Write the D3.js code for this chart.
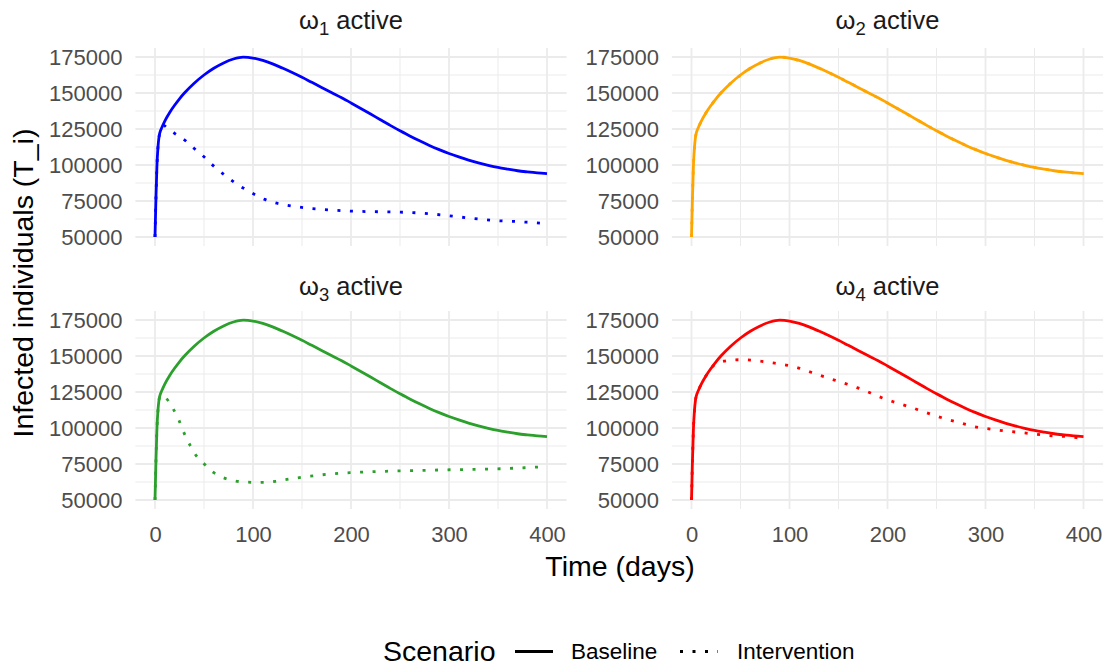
<!DOCTYPE html>
<html>
<head>
<meta charset="utf-8">
<script src="https://cdn.jsdelivr.net/npm/d3@7"></script>
<style>
  body { margin: 0; background: #fff; }
  text { font-family: "Liberation Sans", Arial, sans-serif; }
</style>
</head>
<body>
<svg id="chart" width="1108" height="666"></svg>
<script>
// ---- data: infected individuals T_i over time (days) ----
const facetLabels = ["1", "2", "3", "4"];           // subscript of ω in each strip
const facetColors = ["#0000FF", "#FFA500", "#2CA02C", "#FF0000"];
const scenarios = ["Baseline", "Intervention"];
const xTicks = [0, 100, 200, 300, 400];
const yTicks = [50000, 75000, 100000, 125000, 150000, 175000];

// baseline trajectory (identical across the four panels)
const baseline = [
  [0, 50000], [1, 78000], [2, 100000], [3, 112000], [4, 119000], [5, 122500],
  [7, 126000], [10, 130500], [15, 136500], [20, 141500], [25, 146000], [30, 150000],
  [40, 156800], [50, 162500], [60, 167200], [70, 170900], [80, 173600], [90, 174900],
  [100, 174300], [110, 172600], [120, 170200], [130, 167300], [140, 164200],
  [150, 160900], [160, 157400], [170, 153900], [180, 150300], [190, 146800],
  [200, 143100], [210, 139300], [220, 135400], [230, 131400], [240, 127500],
  [250, 123800], [260, 120200], [270, 116800], [280, 113600], [290, 110700],
  [300, 108000], [310, 105600], [320, 103400], [330, 101500], [340, 99800],
  [350, 98300], [360, 97100], [370, 96000], [380, 95200], [390, 94500], [400, 94000]
];

// intervention with ω1 active
const interventionW1 = [
  [0, 50000], [1, 78000], [2, 100000], [3, 112000], [4, 119000], [5, 122500],
  [7, 126000], [9, 127500], [12, 126000], [20, 122000], [32, 116400], [40, 111500],
  [50, 105700], [60, 99200], [74, 91500], [85, 86000], [94, 82500], [103, 79000],
  [112, 76100], [122, 73800], [134, 72100], [147, 70800], [159, 69800], [172, 69100],
  [185, 68500], [208, 67800], [230, 67500], [247, 67300], [272, 66600], [297, 65000],
  [323, 63000], [348, 61400], [370, 60700], [385, 60000], [400, 59300]
];

// intervention with ω2 active (coincides with the baseline)
const interventionW2 = baseline;

// intervention with ω3 active
const interventionW3 = [
  [0, 50000], [1, 78000], [2, 100000], [3, 112000], [4, 119000], [5, 122000],
  [7, 123000], [10, 121500], [14, 118500], [18, 114000], [24, 106000], [31, 94500],
  [37, 86500], [42, 80800], [47, 77000], [51, 74500], [56, 71000], [60, 69000],
  [67, 66300], [75, 64300], [82, 63200], [89, 62600], [100, 62300], [113, 62300],
  [126, 63300], [138, 64700], [151, 65900], [163, 66900], [175, 67800], [199, 69000],
  [224, 69700], [250, 70200], [275, 70600], [301, 71000], [326, 71300], [352, 71700],
  [377, 72400], [400, 73200]
];

// intervention with ω4 active
const interventionW4 = [
  [0, 50000], [1, 78000], [2, 100000], [3, 112000], [4, 119000], [5, 122500],
  [7, 126000], [10, 130500], [15, 136500], [20, 141500], [25, 144800], [33, 146400],
  [40, 147100], [48, 147400], [57, 147300], [67, 146700], [76, 145900], [85, 145000],
  [95, 143900], [104, 142700], [113, 140900], [122, 138700], [131, 136600],
  [141, 134400], [150, 132300], [160, 130200], [169, 128000], [178, 125700],
  [187, 123000], [197, 120300], [206, 118200], [215, 116300], [225, 114100],
  [234, 112000], [249, 108500], [260, 106200], [271, 104200], [280, 102500],
  [289, 100900], [300, 99700], [312, 98600], [325, 97600], [338, 96700],
  [351, 95700], [364, 94800], [375, 94300], [386, 93900], [393, 93300], [399, 92700]
];

const interventions = [interventionW1, interventionW2, interventionW3, interventionW4];

// ---- layout ----
const svg = d3.select("#chart");
const colX = [155, 691.5];          // pixel of day 0 in each column
const panelW = 392;                 // pixels spanned by days 0..400
const rowTop = [57, 320];           // pixel of 175000 in each row
const panelH = 180;                 // pixels spanned by 50000..175000
const fontTick = 22, fontTitle = 28.5, fontStrip = 25.5, fontLegend = 22.5;
const lineW = 2.8;

const fmt = d3.format("d");

facetLabels.forEach((lab, i) => {
  const col = i % 2, row = Math.floor(i / 2);
  const x = d3.scaleLinear().domain([0, 400]).range([colX[col], colX[col] + panelW]);
  const y = d3.scaleLinear().domain([50000, 175000]).range([rowTop[row] + panelH, rowTop[row]]);
  const xMin = x(-20), xMax = x(420), yMin = y(43750), yMax = y(181250);

  const g = svg.append("g");

  // grid: minor then major
  const minorX = [50, 150, 250, 350];
  const minorY = [62500, 87500, 112500, 137500, 162500];
  g.selectAll(".mx").data(minorX).join("line")
    .attr("x1", d => x(d)).attr("x2", d => x(d)).attr("y1", yMax).attr("y2", yMin)
    .attr("stroke", "#EBEBEB").attr("stroke-width", 1);
  g.selectAll(".my").data(minorY).join("line")
    .attr("x1", xMin).attr("x2", xMax).attr("y1", d => y(d)).attr("y2", d => y(d))
    .attr("stroke", "#EBEBEB").attr("stroke-width", 1);
  g.selectAll(".Mx").data(xTicks).join("line")
    .attr("x1", d => x(d)).attr("x2", d => x(d)).attr("y1", yMax).attr("y2", yMin)
    .attr("stroke", "#EBEBEB").attr("stroke-width", 1.8);
  g.selectAll(".My").data(yTicks).join("line")
    .attr("x1", xMin).attr("x2", xMax).attr("y1", d => y(d)).attr("y2", d => y(d))
    .attr("stroke", "#EBEBEB").attr("stroke-width", 1.8);

  // y axis labels
  const yAxis = d3.axisLeft(y).tickValues(yTicks).tickFormat(fmt).tickSize(0).tickPadding(0);
  const ya = g.append("g").attr("transform", `translate(${xMin - 13},0)`).call(yAxis);
  ya.select(".domain").remove();
  ya.selectAll("text").attr("font-size", fontTick).attr("fill", "#4D4D4D")
    .attr("font-family", "Liberation Sans, Arial, sans-serif").attr("dy", "0.36em");

  // x axis labels only on bottom row
  if (row === 1) {
    const xAxis = d3.axisBottom(x).tickValues(xTicks).tickFormat(fmt).tickSize(0).tickPadding(0);
    const xa = g.append("g").attr("transform", `translate(0,${yMin})`).call(xAxis);
    xa.select(".domain").remove();
    xa.selectAll("text").attr("font-size", fontTick).attr("fill", "#4D4D4D")
      .attr("font-family", "Liberation Sans, Arial, sans-serif")
      .attr("dy", null).attr("y", 0).attr("transform", "translate(0,33)");
  }

  // strip label
  const st = g.append("text")
    .attr("x", x(200)).attr("y", row === 0 ? 28.5 : 294.5)
    .attr("text-anchor", "middle").attr("font-size", fontStrip).attr("fill", "#1A1A1A");
  st.append("tspan").text("ω");
  st.append("tspan").text(lab).attr("font-size", 18.5).attr("dy", 6);
  st.append("tspan").text(" active").attr("dy", -6);

  // series lines
  const line = d3.line().x(d => x(d[0])).y(d => y(d[1])).curve(d3.curveMonotoneX);
  g.append("path").datum(baseline).attr("d", line)
    .attr("fill", "none").attr("stroke", facetColors[i]).attr("stroke-width", lineW);
  g.append("path").datum(interventions[i]).attr("d", line)
    .attr("fill", "none").attr("stroke", facetColors[i]).attr("stroke-width", lineW)
    .attr("stroke-dasharray", "3,9.5");
});

// axis titles
svg.append("text").attr("x", 620).attr("y", 576).attr("text-anchor", "middle")
  .attr("font-size", fontTitle).attr("fill", "#000").text("Time (days)");
svg.append("text").attr("transform", "translate(33,283) rotate(-90)")
  .attr("text-anchor", "middle").attr("font-size", fontTitle).attr("fill", "#000")
  .text("Infected individuals (T_i)");

// legend
const leg = svg.append("g");
leg.append("text").attr("x", 383).attr("y", 660.5).attr("font-size", fontTitle)
  .attr("fill", "#000").text("Scenario");
const keyX = [515, 680], labX = [571, 737];
scenarios.forEach((s, k) => {
  leg.append("line").attr("x1", keyX[k]).attr("x2", keyX[k] + 38)
    .attr("y1", 651.5).attr("y2", 651.5)
    .attr("stroke", "#000").attr("stroke-width", lineW)
    .attr("stroke-dasharray", k === 1 ? "3,9.5" : null);
  leg.append("text").attr("x", labX[k]).attr("y", 658.5).attr("font-size", fontLegend)
    .attr("fill", "#000").text(s);
});
</script>
</body>
</html>
